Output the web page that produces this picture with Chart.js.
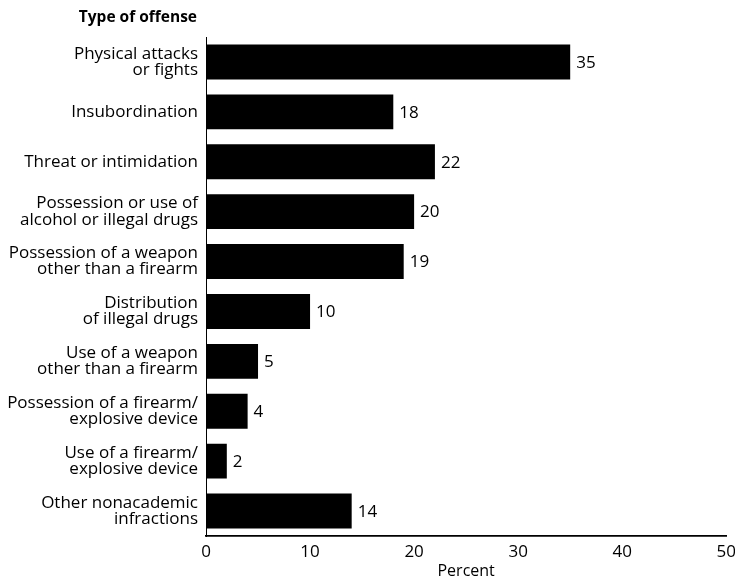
<!DOCTYPE html>
<html>
<head>
<meta charset="utf-8">
<script src="https://cdn.jsdelivr.net/npm/chart.js@4/dist/chart.umd.min.js"></script>
<style>
  html, body { margin: 0; padding: 0; background: #fff; overflow: hidden; }
  /* a bit wider than the window so the "50" label may run off the edge like the print */
  #wrap { position: relative; width: 742px; height: 581px; }
</style>
</head>
<body>
<div id="wrap"><canvas id="offenseChart"></canvas></div>
<script>
// Percent of schools taking serious disciplinary action, by offense type
const OFFENSE_LABELS = [
  ['Physical attacks', 'or fights'],
  'Insubordination',
  'Threat or intimidation',
  ['Possession or use of', 'alcohol or illegal drugs'],
  ['Possession of a weapon', 'other than a firearm'],
  ['Distribution', 'of illegal drugs'],
  ['Use of a weapon', 'other than a firearm'],
  ['Possession of a firearm/', 'explosive device'],
  ['Use of a firearm/', 'explosive device'],
  ['Other nonacademic', 'infractions'],
];
const OFFENSE_PERCENT = [35, 18, 22, 20, 19, 10, 5, 4, 2, 14];
const X_TICKS = [0, 10, 20, 30, 40, 50];

const FONT_FAMILY = '"Open Sans", "DejaVu Sans", sans-serif';
const INK = '#000';

// numbers printed just past the end of each bar
const valueLabels = {
  id: 'valueLabels',
  afterDatasetsDraw(chart) {
    const { ctx } = chart;
    const meta = chart.getDatasetMeta(0);
    ctx.save();
    ctx.fillStyle = INK;
    ctx.font = `17px ${FONT_FAMILY}`;
    ctx.textAlign = 'left';
    ctx.textBaseline = 'middle';
    meta.data.forEach((bar, i) => {
      ctx.fillText(String(OFFENSE_PERCENT[i]), bar.x + 6, bar.y + 1);
    });
    ctx.restore();
  },
};

// bold heading above the category labels
const axisHeading = {
  id: 'axisHeading',
  afterDraw(chart) {
    const { ctx } = chart;
    ctx.save();
    ctx.fillStyle = INK;
    ctx.font = `bold 15.5px ${FONT_FAMILY}`;
    ctx.textAlign = 'right';
    ctx.textBaseline = 'middle';
    ctx.fillText('Type of offense', chart.chartArea.left - 9, 18);
    ctx.restore();
  },
};

new Chart(document.getElementById('offenseChart'), {
  type: 'bar',
  data: {
    labels: OFFENSE_LABELS,
    datasets: [{
      data: OFFENSE_PERCENT,
      backgroundColor: INK,
      borderWidth: 0,
      barPercentage: 0.7,
      categoryPercentage: 1,
    }],
  },
  options: {
    indexAxis: 'y',
    responsive: true,
    maintainAspectRatio: false,
    animation: false,
    layout: { padding: { top: 37, left: 0, right: 0, bottom: 0 } },
    plugins: {
      legend: { display: false },
      tooltip: { enabled: false },
    },
    scales: {
      x: {
        min: 0,
        max: 50,
        afterBuildTicks(scale) {
          scale.ticks = X_TICKS.map((v) => ({ value: v }));
        },
        afterFit(scale) {
          scale.height = 45;
        },
        grid: { display: false, drawTicks: false },
        border: { display: true, color: INK, width: 1.8 },
        ticks: {
          color: INK,
          padding: 6,
          font: { family: FONT_FAMILY, size: 17 },
        },
        title: {
          display: true,
          text: 'Percent',
          color: INK,
          padding: { top: 0, bottom: 0 },
          font: { family: FONT_FAMILY, size: 16 },
        },
      },
      y: {
        afterFit(scale) {
          scale.width = 206;
        },
        grid: { display: false, drawTicks: false },
        border: { display: true, color: INK, width: 1 },
        ticks: {
          color: INK,
          padding: 8,
          autoSkip: false,
          font: { family: FONT_FAMILY, size: 17, lineHeight: 0.95 },
        },
      },
    },
  },
  plugins: [valueLabels, axisHeading],
});
</script>
</body>
</html>
